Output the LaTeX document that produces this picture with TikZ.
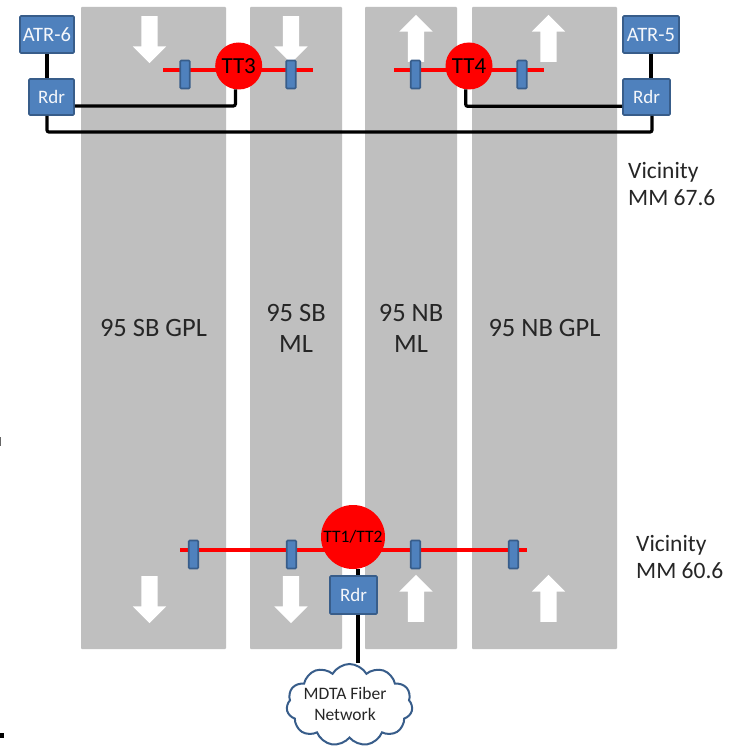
\documentclass[tikz,border=0pt]{standalone}
\usepackage{fontspec}
\setmainfont{Carlito}
\usetikzlibrary{shapes.arrows,shapes.symbols,calc}
\newcommand{\fs}[1]{\fontsize{#1}{#1}\selectfont}
\definecolor{lanegray}{HTML}{BFBFBF}
\definecolor{boxblue}{HTML}{4F81BD}
\definecolor{boxedge}{HTML}{385D8A}
\tikzset{
  x=1pt,y=-1pt,
  lane/.style={fill=lanegray,draw=none,inner sep=0,rounded corners=0.8pt,align=center,text=black!85,
    font=\fs{26.5},execute at begin node={\baselineskip=31pt}},
  devbox/.style={fill=boxblue,draw=boxedge,line width=1.6pt,rounded corners=1pt,inner sep=0,text=white!94!boxblue,font=\fs{19}},
  sensor/.style={fill=boxblue,draw=boxedge,line width=1.6pt,rounded corners=1pt,inner sep=0,minimum width=9.5pt,minimum height=28pt},
  tag/.style={circle,fill=red,draw=none,inner sep=0,text=black},
  flow/.style={shape=single arrow,fill=white,draw=none,inner xsep=0pt,inner ysep=8pt,minimum width=33pt,minimum height=47pt,
    single arrow head extend=8.5pt,single arrow tip angle=90,single arrow head indent=0pt},
  sb/.style={flow,rotate=-90},
  nb/.style={flow,rotate=90},
  wire/.style={draw=black,line width=3.2pt,rounded corners=2pt},
  beam/.style={draw=red,line width=3.2pt},
  place/.style={anchor=west,inner sep=0,align=left,text=black!85,font=\fs{23.5},execute at begin node={\baselineskip=27pt}}
}
\begin{document}
\begin{tikzpicture}
\useasboundingbox (0,0) rectangle (737,746);
\fill[white] (0,0) rectangle (737,746);
% lanes
\node[lane,minimum width=145pt,minimum height=642pt] (sbgpl) at (153.5,328) {95 SB GPL};
\node[lane,minimum width=92pt,minimum height=642pt] (sbml) at (296,328) {95 SB\\ML};
\node[lane,minimum width=92pt,minimum height=642pt] (nbml) at (411,328) {95 NB\\ML};
\node[lane,minimum width=145pt,minimum height=642pt] (nbgpl) at (544.5,328) {95 NB GPL};
% flow arrows
\node[sb] (a1) at (149.5,35.5) {};
\node[sb] (a2) at (291,35.5) {};
\node[nb] (a3) at (416,42.5) {};
\node[nb] (a4) at (548.5,42.5) {};
\node[sb] (a5) at (149.5,595.5) {};
\node[sb] (a6) at (291,595.5) {};
\node[nb] (a7) at (416,602.5) {};
\node[nb] (a8) at (548.5,602.5) {};
% beams
\coordinate (b3l) at (163,70); \coordinate (b3r) at (313,70);
\coordinate (b4l) at (394,70); \coordinate (b4r) at (544,70);
\coordinate (b1l) at (180,550); \coordinate (b1r) at (527,550);
\draw[beam] (b3l) -- (b3r);
\draw[beam] (b4l) -- (b4r);
\draw[beam] (b1l) -- (b1r);
% sensors
\node[sensor] (s1) at (185,74.5) {};
\node[sensor] (s2) at (291,74.5) {};
\node[sensor] (s3) at (415.5,74.5) {};
\node[sensor] (s4) at (522,74.5) {};
\node[sensor] (s5) at (193.5,554.5) {};
\node[sensor] (s6) at (291.5,554.5) {};
\node[sensor] (s7) at (415.5,554.5) {};
\node[sensor] (s8) at (513.5,554.5) {};
% tags
\node[tag,minimum size=47pt,font=\fs{23}] (tt3) at (238.7,66) {TT3};
\node[tag,minimum size=47pt,font=\fs{23}] (tt4) at (469,66) {TT4};
\node[tag,minimum size=64pt,font=\fs{17.5}] (tt12) at (353,537) {TT1/TT2};
% devices
\node[devbox,minimum width=54pt,minimum height=37pt,font=\fs{20.5}] (atr6) at (47,34.5) {ATR-6};
\node[devbox,minimum width=45pt,minimum height=36pt] (rdr6) at (51.5,97) {Rdr};
\node[devbox,minimum width=56pt,minimum height=37pt,font=\fs{20.5}] (atr5) at (651,34.5) {ATR-5};
\node[devbox,minimum width=47pt,minimum height=36pt] (rdr5) at (646.5,97) {Rdr};
\node[devbox,minimum width=47pt,minimum height=38pt] (rdr1) at (353.5,595) {Rdr};
\node[cloud,cloud puffs=11,cloud puff arc=120,aspect=1.6,draw=boxedge,fill=white,line width=2pt,inner sep=0,
  minimum width=126pt,minimum height=82pt] (net) at (349.5,705) {};
\node[inner sep=0,align=center,text=black!85,font=\fs{17.5},
  execute at begin node={\baselineskip=21pt}] (nettext) at (345,704) {MDTA Fiber\\Network};
% connectors
\coordinate (busl) at (47,132); \coordinate (busr) at (652,132); \coordinate (trunk) at (358,595);
\draw[wire] (atr6.south) -- (atr6.south |- rdr6.north);
\draw[wire] (atr5.south) -- (atr5.south |- rdr5.north);
\draw[wire] (tt3.262) |- (rdr6.-21.8);
\draw[wire] (tt4.262) |- (rdr5.201);
\draw[wire] (busl |- rdr6.south) -- (busl) -- (busr) -- (busr |- rdr5.south);
\draw[wire] (trunk |- tt12.south) -- (trunk |- rdr1.north);
\draw[wire] (trunk |- rdr1.south) -- (trunk |- net.north);
% places
\node[place] (v1) at (628,184.5) {Vicinity\\MM 67.6};
\node[place] (v2) at (636,557.5) {Vicinity\\MM 60.6};
% stray mark
\fill[black] (0,733) rectangle (4,738);
\fill[black!60] (0,437) rectangle (1,446);
\end{tikzpicture}
\end{document}
